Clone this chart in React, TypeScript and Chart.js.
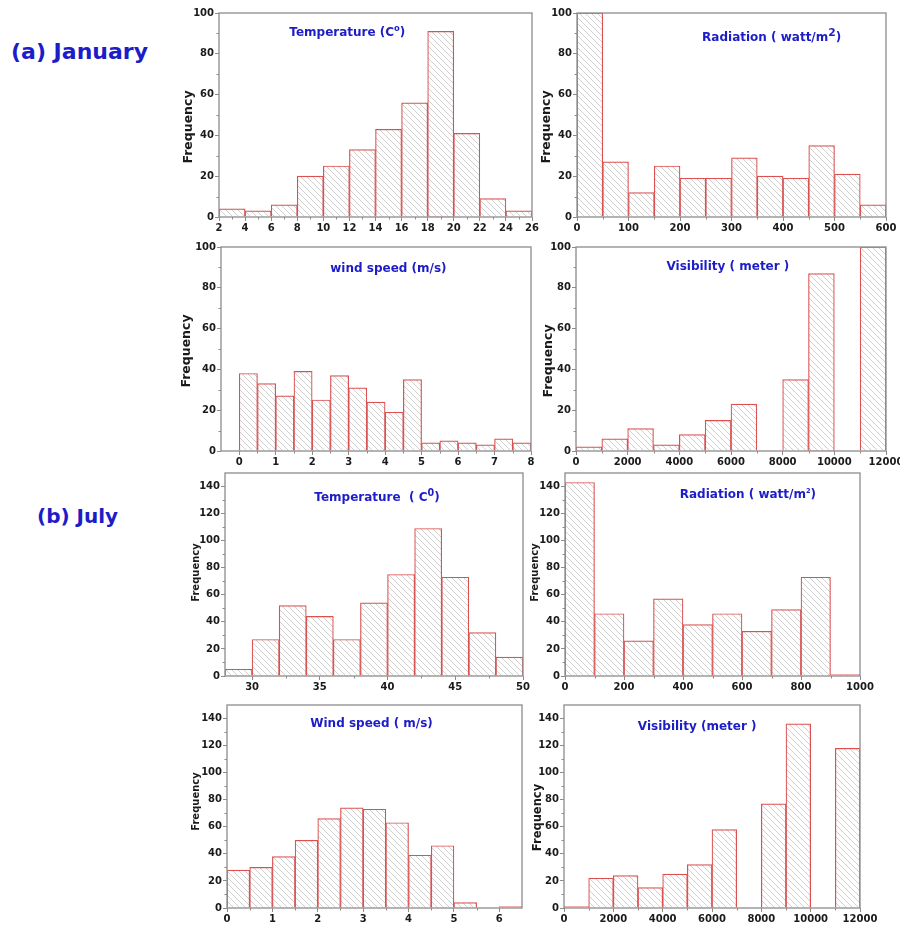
import React, { useEffect, useRef } from "react";
import { Chart, registerables } from "chart.js";

Chart.register(...registerables);

// ---------------- DATA ----------------
// Bin lower edges and frequencies for each histogram
const janTempBins = [2, 4, 6, 8, 10, 12, 14, 16, 18, 20, 22, 24];
const janTempFreq = [4, 3, 6, 20, 25, 33, 43, 56, 91, 41, 9, 3];
const janTempTicks = [2, 4, 6, 8, 10, 12, 14, 16, 18, 20, 22, 24, 26];

const janRadBins = [0, 50, 100, 150, 200, 250, 300, 350, 400, 450, 500, 550];
const janRadFreq = [100, 27, 12, 25, 19, 19, 29, 20, 19, 35, 21, 6];
const janRadTicks = [0, 100, 200, 300, 400, 500, 600];

const janWindBins = [0, 0.5, 1, 1.5, 2, 2.5, 3, 3.5, 4, 4.5, 5, 5.5, 6, 6.5, 7, 7.5];
const janWindFreq = [38, 33, 27, 39, 25, 37, 31, 24, 19, 35, 4, 5, 4, 3, 6, 4];
const janWindTicks = [0, 1, 2, 3, 4, 5, 6, 7, 8];

const janVisBins = [0, 1000, 2000, 3000, 4000, 5000, 6000, 7000, 8000, 9000, 10000, 11000];
const janVisFreq = [2, 6, 11, 3, 8, 15, 23, 0, 35, 87, 0, 100];
const janVisTicks = [0, 2000, 4000, 6000, 8000, 10000, 12000];

const julTempBins = [28, 30, 32, 34, 36, 38, 40, 42, 44, 46, 48];
const julTempFreq = [5, 27, 52, 44, 27, 54, 75, 109, 73, 32, 14];
const julTempTicks = [30, 35, 40, 45, 50];

const julRadBins = [0, 100, 200, 300, 400, 500, 600, 700, 800, 900];
const julRadFreq = [143, 46, 26, 57, 38, 46, 33, 49, 73, 1];
const julRadTicks = [0, 200, 400, 600, 800, 1000];

const julWindBins = [0, 0.5, 1, 1.5, 2, 2.5, 3, 3.5, 4, 4.5, 5, 5.5, 6];
const julWindFreq = [28, 30, 38, 50, 66, 74, 73, 63, 39, 46, 4, 0, 1];
const julWindTicks = [0, 1, 2, 3, 4, 5, 6];

const julVisBins = [0, 1000, 2000, 3000, 4000, 5000, 6000, 7000, 8000, 9000, 10000, 11000];
const julVisFreq = [1, 22, 24, 15, 25, 32, 58, 0, 77, 136, 0, 118];
const julVisTicks = [0, 2000, 4000, 6000, 8000, 10000, 12000];

const janYTicks = [0, 20, 40, 60, 80, 100];
const julYTicks = [0, 20, 40, 60, 80, 100, 120, 140];

// ---------------- STYLE ----------------
const FONT = '"DejaVu Sans", "Liberation Sans", sans-serif';
const FRAME = "#8c8c8c";
const RED = "#dc5050";
const BLUE = "#1c1cc8";
const TICK = "#1a1a1a";
const HATCH = "#c4c4c4";

type Part = { t: string; sup?: boolean };

type PanelCfg = {
  L: number; T: number; R: number; B: number;
  xMin: number; xMax: number; yMax: number;
  bins: number[]; binW: number; freq: number[];
  xTicks: number[]; yTicks: number[];
  title: Part[]; titleCx: number; titleY: number; supScale: number;
  yTitleSize: number; yTitleDx: number; yTitleDy: number;
};

const YW = 50;
const PAD_TOP = 10;
const PAD_RIGHT = 24;
const XH = 22;

const panels: PanelCfg[] = [
  {
    L: 219, T: 13, R: 532, B: 217, xMin: 2, xMax: 26, yMax: 100,
    bins: janTempBins, binW: 2, freq: janTempFreq, xTicks: janTempTicks, yTicks: janYTicks,
    title: [{ t: "Temperature (C" }, { t: "o", sup: true }, { t: ")" }],
    titleCx: 0.41, titleY: 19, supScale: 0.7, yTitleSize: 12.5, yTitleDx: 30, yTitleDy: 12,
  },
  {
    L: 577, T: 13, R: 886, B: 217, xMin: 0, xMax: 600, yMax: 100,
    bins: janRadBins, binW: 50, freq: janRadFreq, xTicks: janRadTicks, yTicks: janYTicks,
    title: [{ t: "Radiation ( watt/m" }, { t: "2", sup: true }, { t: ")" }],
    titleCx: 0.63, titleY: 24, supScale: 0.9, yTitleSize: 12.5, yTitleDx: 30, yTitleDy: 12,
  },
  {
    L: 221, T: 247, R: 531, B: 451, xMin: -0.5, xMax: 8, yMax: 100,
    bins: janWindBins, binW: 0.5, freq: janWindFreq, xTicks: janWindTicks, yTicks: janYTicks,
    title: [{ t: "wind speed (m/s)" }],
    titleCx: 0.54, titleY: 21, supScale: 0.7, yTitleSize: 12.5, yTitleDx: 34, yTitleDy: 2,
  },
  {
    L: 576, T: 247, R: 886, B: 451, xMin: 0, xMax: 12000, yMax: 100,
    bins: janVisBins, binW: 1000, freq: janVisFreq, xTicks: janVisTicks, yTicks: janYTicks,
    title: [{ t: "Visibility ( meter )" }],
    titleCx: 0.49, titleY: 19, supScale: 0.7, yTitleSize: 12.5, yTitleDx: 27, yTitleDy: 12,
  },
  {
    L: 225, T: 473, R: 523, B: 676, xMin: 28, xMax: 50, yMax: 150,
    bins: julTempBins, binW: 2, freq: julTempFreq, xTicks: julTempTicks, yTicks: julYTicks,
    title: [{ t: "Temperature  ( C" }, { t: "0", sup: true }, { t: ")" }],
    titleCx: 0.51, titleY: 24, supScale: 0.8, yTitleSize: 10, yTitleDx: 29, yTitleDy: -2,
  },
  {
    L: 565, T: 473, R: 860, B: 676, xMin: 0, xMax: 1000, yMax: 150,
    bins: julRadBins, binW: 100, freq: julRadFreq, xTicks: julRadTicks, yTicks: julYTicks,
    title: [{ t: "Radiation ( watt/m" }, { t: "2", sup: true }, { t: ")" }],
    titleCx: 0.62, titleY: 21, supScale: 0.55, yTitleSize: 10, yTitleDx: 30, yTitleDy: -2,
  },
  {
    L: 227, T: 705, R: 522, B: 908, xMin: 0, xMax: 6.5, yMax: 150,
    bins: julWindBins, binW: 0.5, freq: julWindFreq, xTicks: julWindTicks, yTicks: julYTicks,
    title: [{ t: "Wind speed ( m/s)" }],
    titleCx: 0.49, titleY: 18, supScale: 0.7, yTitleSize: 10, yTitleDx: 31, yTitleDy: -5,
  },
  {
    L: 564, T: 705, R: 860, B: 908, xMin: 0, xMax: 12000, yMax: 150,
    bins: julVisBins, binW: 1000, freq: julVisFreq, xTicks: julVisTicks, yTicks: julYTicks,
    title: [{ t: "Visibility (meter )" }],
    titleCx: 0.45, titleY: 21, supScale: 0.7, yTitleSize: 11.5, yTitleDx: 26, yTitleDy: 11,
  },
];

function makeHatch(): CanvasPattern | string {
  const c = document.createElement("canvas");
  const s = 6;
  c.width = s;
  c.height = s;
  const g = c.getContext("2d");
  if (!g) return "#ffffff";
  g.fillStyle = "#ffffff";
  g.fillRect(0, 0, s, s);
  g.strokeStyle = HATCH;
  g.lineWidth = 0.8;
  g.beginPath();
  g.moveTo(-1, -1);
  g.lineTo(s + 1, s + 1);
  g.moveTo(-1, s - 1);
  g.lineTo(1, s + 1);
  g.moveTo(s - 1, -1);
  g.lineTo(s + 1, 1);
  g.stroke();
  const p = g.createPattern(c, "repeat");
  return p || "#ffffff";
}

function Panel({ cfg }: { cfg: PanelCfg }) {
  const ref = useRef<HTMLCanvasElement | null>(null);
  const W = YW + (cfg.R - cfg.L) + PAD_RIGHT;
  const H = PAD_TOP + (cfg.B - cfg.T) + XH;

  useEffect(() => {
    const canvas = ref.current;
    if (!canvas) return;
    const data = cfg.bins.map((b, i) => ({ x: b + cfg.binW / 2, y: cfg.freq[i] }));

    const decor = {
      id: "decor",
      afterDatasetsDraw(chart: any) {
        const { ctx, chartArea: a, scales } = chart;
        ctx.save();
        // minor ticks
        ctx.strokeStyle = FRAME;
        ctx.lineWidth = 1;
        const xs = scales.x;
        const ys = scales.y;
        for (let i = 0; i < cfg.xTicks.length - 1; i++) {
          const m = (cfg.xTicks[i] + cfg.xTicks[i + 1]) / 2;
          const px = Math.round(xs.getPixelForValue(m)) + 0.5;
          ctx.beginPath();
          ctx.moveTo(px, a.bottom);
          ctx.lineTo(px, a.bottom + 2.5);
          ctx.stroke();
        }
        for (let i = 0; i < cfg.yTicks.length - 1; i++) {
          const m = (cfg.yTicks[i] + cfg.yTicks[i + 1]) / 2;
          const py = Math.round(ys.getPixelForValue(m)) + 0.5;
          ctx.beginPath();
          ctx.moveTo(a.left - 2.5, py);
          ctx.lineTo(a.left, py);
          ctx.stroke();
        }
        // frame
        ctx.strokeStyle = FRAME;
        ctx.lineWidth = 1.3;
        ctx.strokeRect(a.left, a.top, a.right - a.left, a.bottom - a.top);

        // panel title with superscripts
        const size = 12;
        const parts = cfg.title.map((p) => {
          const fs = p.sup ? size * cfg.supScale : size;
          ctx.font = `bold ${fs}px ${FONT}`;
          return { ...p, fs, w: ctx.measureText(p.t).width };
        });
        const total = parts.reduce((s, p) => s + p.w, 0);
        let x = a.left + cfg.titleCx * (a.right - a.left) - total / 2;
        const y = a.top + cfg.titleY;
        ctx.fillStyle = BLUE;
        ctx.textBaseline = "alphabetic";
        ctx.textAlign = "left";
        const base = y + size * 0.36;
        for (const p of parts) {
          ctx.font = `bold ${p.fs}px ${FONT}`;
          ctx.fillText(p.t, x, p.sup ? base - size * 0.45 : base);
          x += p.w;
        }

        // y-axis title
        ctx.save();
        ctx.translate(a.left - cfg.yTitleDx, (a.top + a.bottom) / 2 + cfg.yTitleDy);
        ctx.rotate(-Math.PI / 2);
        ctx.font = `bold ${cfg.yTitleSize}px ${FONT}`;
        ctx.fillStyle = TICK;
        ctx.textAlign = "center";
        ctx.textBaseline = "middle";
        ctx.fillText("Frequency", 0, 0);
        ctx.restore();

        ctx.restore();
      },
    };

    const tickFont = { family: FONT, size: 10, weight: "bold" as const };
    const plain = (v: any) => String(v);

    const chart = new Chart(canvas, {
      type: "bar",
      data: {
        datasets: [
          {
            data,
            backgroundColor: makeHatch() as any,
            borderColor: RED,
            borderWidth: 1.2,
            borderSkipped: "start",
            barPercentage: 1,
            categoryPercentage: 1,
          },
        ],
      },
      options: {
        animation: false,
        responsive: false,
        maintainAspectRatio: false,
        layout: { padding: { top: PAD_TOP, right: PAD_RIGHT, left: 0, bottom: 0 } },
        plugins: {
          legend: { display: false },
          tooltip: { enabled: false },
          title: { display: false },
        },
        scales: {
          x: {
            type: "linear",
            min: cfg.xMin,
            max: cfg.xMax,
            offset: false,
            grid: {
              display: true,
              drawOnChartArea: false,
              drawTicks: true,
              tickLength: 4,
              color: FRAME,
              offset: false,
            },
            border: { display: false },
            ticks: {
              font: tickFont,
              color: TICK,
              padding: 1,
              maxRotation: 0,
              autoSkip: false,
              callback: plain,
            },
            afterBuildTicks: (s: any) => {
              s.ticks = cfg.xTicks.map((v) => ({ value: v }));
            },
            afterFit: (s: any) => {
              s.height = XH;
              s.paddingLeft = 0;
              s.paddingRight = 0;
            },
          },
          y: {
            type: "linear",
            min: 0,
            max: cfg.yMax,
            grid: {
              display: true,
              drawOnChartArea: false,
              drawTicks: true,
              tickLength: 4,
              color: FRAME,
            },
            border: { display: false },
            ticks: {
              font: tickFont,
              color: TICK,
              padding: 1,
              autoSkip: false,
              callback: plain,
            },
            afterBuildTicks: (s: any) => {
              s.ticks = cfg.yTicks.map((v) => ({ value: v }));
            },
            afterFit: (s: any) => {
              s.width = YW;
              s.paddingTop = 0;
              s.paddingBottom = 0;
            },
          },
        },
      },
      plugins: [decor],
    });
    return () => chart.destroy();
  }, [cfg]);

  return (
    <canvas
      ref={ref}
      width={W}
      height={H}
      style={{
        position: "absolute",
        left: cfg.L - YW,
        top: cfg.T - PAD_TOP,
        width: W,
        height: H,
      }}
    />
  );
}

export default function App() {
  return (
    <div
      style={{
        position: "absolute",
        left: 0,
        top: 0,
        width: 900,
        height: 926,
        overflow: "hidden",
        background: "#ffffff",
      }}
    >
      <div
        style={{
          position: "absolute",
          left: 11,
          top: 39,
          fontFamily: FONT,
          fontWeight: "bold",
          fontSize: 22,
          lineHeight: "26px",
          color: BLUE,
          whiteSpace: "nowrap",
        }}
      >
        (a) January
      </div>
      <div
        style={{
          position: "absolute",
          left: 37,
          top: 504,
          fontFamily: FONT,
          fontWeight: "bold",
          fontSize: 20,
          lineHeight: "24px",
          color: BLUE,
          whiteSpace: "nowrap",
        }}
      >
        (b) July
      </div>
      {panels.map((p, i) => (
        <Panel key={i} cfg={p} />
      ))}
    </div>
  );
}
